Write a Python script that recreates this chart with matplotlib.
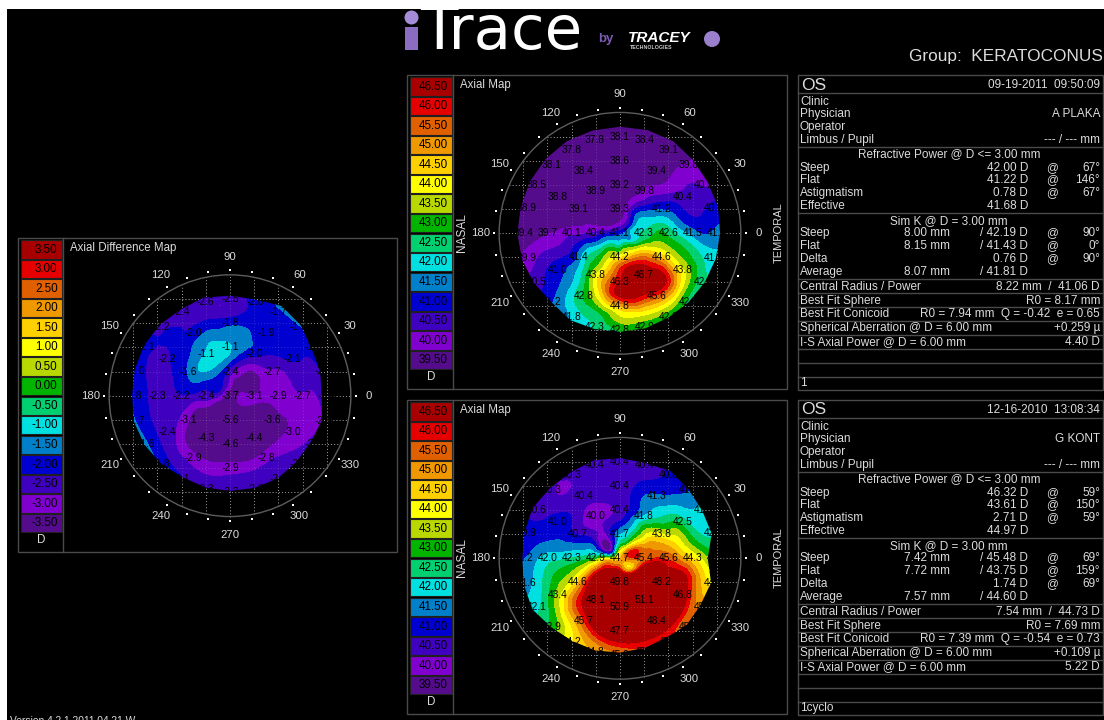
import numpy as np
import matplotlib
matplotlib.use("Agg")
import matplotlib.pyplot as plt
from matplotlib.patches import Rectangle, Circle, Polygon
from matplotlib.tri import Triangulation, UniformTriRefiner

plt.rcParams['font.family'] = ['Liberation Sans', 'DejaVu Sans']

# ---------- colour scale ----------
BAND_COLOURS = ['#540c8c', '#8000d0', '#4000c0', '#0000d0', '#0080c8', '#00e0e0', '#00d070', '#00b400',
                '#b8d800', '#ffff00', '#ffd000', '#f09800', '#e06000', '#e60000', '#a80000']
AXIAL_LEGEND = [39.5, 40.0, 40.5, 41.0, 41.5, 42.0, 42.5, 43.0, 43.5, 44.0, 44.5, 45.0, 45.5, 46.0, 46.5]
DIFF_LEGEND = [-3.5, -3.0, -2.5, -2.0, -1.5, -1.0, -0.5, 0.0, 0.5, 1.0, 1.5, 2.0, 2.5, 3.0, 3.5]

# ---------- sample rings of each map, from 0 deg counter-clockwise ----------
TOP_R0 = 41.1
TOP_R05 = [41.9, 41.3, 40.3, 39.7, 39.5, 39.8, 40.8, 41.6, 42.2, 42.3, 42.5, 41.7]
TOP_R10 = [42.3, 41.9, 40.7, 39.3, 39.1, 39.4, 40.4, 41.8, 43.4, 44.2, 44.4, 43.3]
TOP_R15 = [42.8, 41.6, 40.2, 39.2, 39.0, 39.5, 40.2, 42.0, 43.5, 45.8, 46.3, 44.3]
TOP_R20 = [42.6, 41.2, 39.8, 39.2, 38.9, 39.1, 40.1, 41.4, 43.8, 46.3, 46.7, 44.6]
TOP_R25 = [42.0, 41.2, 40.8, 40.0, 39.6, 39.1, 38.9, 38.7, 38.6, 38.7, 38.9, 39.2,
           39.9, 40.4, 41.1, 41.9, 43.3, 45.0, 46.6, 46.8, 46.7, 46.5, 44.3, 43.0]
TOP_R30 = [41.5, 40.4, 39.4, 38.6, 38.4, 38.8, 39.7, 41.0, 42.8, 44.8, 45.6, 43.8]
TOP_R35 = [41.2, 40.7, 40.4, 39.9, 39.2, 38.6, 38.3, 38.1, 38.1, 38.2, 38.6, 39.0,
           39.5, 40.2, 40.8, 41.4, 42.3, 42.6, 43.6, 43.8, 44.0, 43.7, 43.0, 42.2]
TOP_R40 = [41.4, 40.9, 40.2, 39.8, 39.1, 38.4, 38.1, 37.8, 37.8, 38.1, 38.5, 38.9,
           39.4, 39.9, 40.5, 41.2, 41.8, 42.3, 42.8, 42.9, 42.9, 42.6, 42.4, 41.9]
TOP_EDGE = [4.14, 4.2, 4.2, 4.28, 4.4, 4.42, 4.41, 4.4, 4.4, 4.35, 4.3, 4.25,
            4.25, 4.2, 4.11, 4.02, 4.14, 4.1, 4.07, 4.07, 4.02, 4.02, 4.05, 4.1]

BOT_R0 = 44.7
BOT_R05 = [45.6, 46.0, 44.0, 42.8, 40.9, 40.4, 43.7, 45.5, 46.3, 46.2, 44.6, 44.3]
BOT_R10 = [45.4, 45.0, 42.7, 41.7, 40.1, 40.4, 42.9, 46.0, 48.5, 49.8, 48.5, 47.0]
BOT_R15 = [45.8, 44.6, 42.4, 40.8, 40.2, 41.0, 42.5, 45.5, 49.0, 50.5, 50.5, 49.5]
BOT_R20 = [45.6, 43.8, 41.8, 40.4, 40.0, 40.7, 42.3, 44.6, 48.1, 50.9, 51.1, 48.2]
BOT_R25 = [45.0, 44.0, 43.2, 42.2, 41.6, 41.0, 40.4, 40.3, 40.2, 40.5, 40.9, 41.3,
           42.1, 43.0, 44.0, 45.8, 47.0, 49.0, 49.5, 50.0, 50.0, 50.0, 47.8, 46.6]
BOT_R30 = [44.3, 42.5, 41.3, 40.4, 40.4, 41.0, 42.0, 43.4, 45.7, 47.7, 48.4, 46.8]
BOT_R35 = [43.5, 42.3, 41.9, 41.4, 40.9, 40.6, 40.4, 40.4, 40.3, 40.3, 40.7, 41.0,
           41.6, 42.0, 42.6, 43.5, 44.6, 45.6, 46.2, 46.4, 46.4, 46.0, 45.4, 44.6]
BOT_R40 = [42.9, 42.2, 41.9, 41.2, 40.8, 40.4, 40.4, 40.4, 40.3, 40.3, 40.6, 40.9,
           41.2, 41.6, 42.1, 42.9, 44.2, 44.8, 45.2, 45.6, 45.8, 45.5, 45.0, 44.0]
BOT_EDGE = [3.63, 3.93, 3.93, 4.02, 4.17, 4.08, 4.15, 4.2, 4.1, 4.1, 4.17, 4.1,
            4.04, 4.12, 4.2, 4.03, 3.95, 3.95, 3.9, 3.85, 3.8, 3.9, 3.85, 3.9]

DIF_R0 = -3.7
DIF_R05 = [-3.0, -3.3, -3.4, -2.9, -2.3, -2.1, -2.5, -3.3, -3.8, -4.2, -3.7, -2.9]
DIF_R10 = [-3.1, -3.8, -3.2, -2.4, -1.7, -1.9, -2.4, -3.3, -4.6, -5.6, -5.0, -3.5]
DIF_R15 = [-2.9, -3.0, -2.7, -1.5, -1.0, -1.4, -2.3, -3.5, -4.5, -5.2, -4.9, -4.0]
DIF_R20 = [-2.9, -2.7, -2.0, -1.1, -1.1, -1.6, -2.2, -3.1, -4.3, -4.6, -4.4, -3.6]
DIF_R25 = [-2.8, -2.7, -2.5, -2.1, -1.9, -1.5, -1.4, -1.3, -1.4, -1.8, -2.0, -2.2,
           -2.3, -2.5, -2.7, -3.3, -3.7, -3.7, -3.6, -3.7, -3.6, -3.4, -3.3, -3.0]
DIF_R30 = [-2.7, -2.1, -1.9, -1.8, -2.0, -2.2, -2.3, -2.4, -2.9, -2.9, -2.8, -3.0]
DIF_R35 = [-2.7, -2.4, -2.1, -1.9, -1.8, -2.0, -2.5, -2.4, -2.2, -2.1, -2.2, -2.2,
           -2.1, -2.1, -2.1, -2.3, -2.5, -2.6, -2.5, -2.5, -2.5, -2.6, -2.8, -2.9]
DIF_R40 = [-2.4, -2.1, -1.9, -1.7, -1.7, -2.0, -2.5, -2.6, -2.4, -2.2, -2.1, -2.0,
           -1.8, -1.7, -1.6, -1.8, -2.1, -2.3, -2.3, -2.3, -2.3, -2.4, -2.5, -2.6]
DIF_R46 = [-2.3, -2.0, -1.6, -1.4, -1.4, -1.9, -2.5, -2.6, -2.4, -2.2, -2.1, -1.9,
           -1.3, -1.2, -1.2, -1.4, -2.0, -2.2, -2.2, -2.2, -2.2, -2.3, -2.4, -2.5]
DIF_EDGE = [3.8, 3.86, 3.9, 4.13, 4.28, 4.12, 4.14, 4.2, 4.11, 4.13, 4.12, 4.09,
            4.05, 4.12, 4.08, 4.0, 3.9, 3.93, 3.94, 3.95, 3.95, 3.88, 3.85, 3.94]

# ---------- info tables ----------
TOP_INFO = dict(date='09-19-2011  09:50:09', doctor='A PLAKA',
                steep=('42.00 D', '67°'), flat=('41.22 D', '146°'), astig=('0.78 D', '67°'), eff='41.68 D',
                ksteep=('8.00 mm', '/ 42.19 D', '90°'), kflat=('8.15 mm', '/ 41.43 D', '0°'),
                kdelta=('0.76 D', '90°'), kavg=('8.07 mm', '/ 41.81 D'),
                central='8.22 mm  /  41.06 D', bfs='R0 = 8.17 mm', bfc='R0 = 7.94 mm  Q = -0.42  e = 0.65',
                sph='+0.259 µ', isa='4.40 D', note='1')
BOT_INFO = dict(date='12-16-2010  13:08:34', doctor='G KONT',
                steep=('46.32 D', '59°'), flat=('43.61 D', '150°'), astig=('2.71 D', '59°'), eff='44.97 D',
                ksteep=('7.42 mm', '/ 45.48 D', '69°'), kflat=('7.72 mm', '/ 43.75 D', '159°'),
                kdelta=('1.74 D', '69°'), kavg=('7.57 mm', '/ 44.60 D'),
                central='7.54 mm  /  44.73 D', bfs='R0 = 7.69 mm', bfc='R0 = 7.39 mm  Q = -0.54  e = 0.73',
                sph='+0.109 µ', isa='5.22 D', note='1cyclo')

W, H = 1104, 720
UNIT = 24.17          # pixels per map unit
HALF = 6.4            # half-width of a map axes, map units
TXT = '#dcdcdc'
FRAME = '#4a4a4a'

fig = plt.figure(figsize=(W / 100, H / 100), dpi=100, facecolor='white')
over = fig.add_axes([0, 0, 1, 1], zorder=10)
over.set_xlim(0, W)
over.set_ylim(H, 0)
over.axis('off')
over.patch.set_alpha(0)
under = fig.add_axes([0, 0, 1, 1], zorder=0)
under.set_xlim(0, W)
under.set_ylim(H, 0)
under.axis('off')
under.add_patch(Rectangle((7, 9), W - 7, H - 9, fc='black', ec='none'))


def polar(r, deg):
    a = np.deg2rad(deg)
    return r * np.cos(a), r * np.sin(a)


def draw_map(cx, cy, rings, centre, edge, levels, label_spec):
    px = 2 * HALF * UNIT
    ax = fig.add_axes([(cx - px / 2) / W, 1 - (cy + px / 2) / H, px / W, px / H], zorder=5)
    ax.set_xlim(-HALF, HALF)
    ax.set_ylim(-HALF, HALF)
    ax.axis('off')
    ax.patch.set_alpha(0)
    xs, ys, zs = [0.0], [0.0], [centre]
    for r, vals in rings:
        deg = np.arange(len(vals)) * 360 / len(vals)
        x, y = polar(r, deg)
        xs += list(x)
        ys += list(y)
        zs += list(vals)
    tri = Triangulation(xs, ys)
    fine_tri, fine_z = UniformTriRefiner(tri).refine_field(np.array(zs), subdiv=3)
    cs = ax.tricontourf(fine_tri, fine_z, levels=levels, colors=BAND_COLOURS, antialiased=False, zorder=1)
    ex, ey = polar(np.array(edge), np.arange(len(edge)) * 360 / len(edge))
    cs.set_clip_path(Polygon(np.column_stack([ex, ey]), closed=True, transform=ax.transData))
    # grid, ring, ticks
    ring = Circle((0, 0), 5, fc='none', ec='#5c5c5c', lw=1.0, zorder=3)
    ax.add_patch(ring)
    for k in range(-4, 5):
        half = np.sqrt(25 - k * k)
        for seg in ([k, k], [-half, half]), ([-half, half], [k, k]):
            ax.plot(*seg, color='#8a8a8a', lw=0.7, linestyle=(0, (1, 2.2)), zorder=0.5)
            ax.plot(*seg, color='#ffffff', alpha=0.18, lw=0.7, linestyle=(0, (1, 2.2)), zorder=2)
    tx, ty = polar(5.2, np.arange(0, 360, 10))
    ax.scatter(tx, ty, s=3.0, marker='s', c='white', linewidths=0, zorder=3)
    for d in range(0, 360, 30):
        lx, ly = polar(5.75, d)
        ax.text(lx, ly, str(d), color=TXT, fontsize=8.2, ha='center', va='center', zorder=4)
    # sampled values, black: they vanish off the map on the black ground
    ax.text(0, 0, f'{centre:.1f}', color='black', fontsize=7.4, ha='center', va='center', zorder=4)
    for r, vals, step in label_spec:
        for i in range(0, len(vals), step):
            d = i * 360 / len(vals)
            lx, ly = polar(r, d)
            ax.text(lx, ly, f'{vals[i]:.1f}', color='black', fontsize=7.4, ha='center', va='center', zorder=4)
    return ax


def rings_of(r05, r10, r15, r20, r25, r30, r35, r40, r46):
    return [(0.5, r05), (1.0, r10), (1.5, r15), (2.0, r20), (2.5, r25), (3.0, r30), (3.5, r35), (4.0, r40), (4.6, r46)]


AX_LEVELS = [-100] + [v - 0.25 for v in AXIAL_LEGEND[1:]] + [100]
DF_LEVELS = [-100] + [v - 0.15 for v in DIFF_LEGEND[1:]] + [100]

draw_map(620, 233.3, rings_of(TOP_R05, TOP_R10, TOP_R15, TOP_R20, TOP_R25, TOP_R30, TOP_R35, TOP_R40, TOP_R40),
         TOP_R0, TOP_EDGE, AX_LEVELS, [(1, TOP_R10, 3), (2, TOP_R20, 1), (3, TOP_R30, 1), (4, TOP_R40, 1)])
draw_map(620, 558.3, rings_of(BOT_R05, BOT_R10, BOT_R15, BOT_R20, BOT_R25, BOT_R30, BOT_R35, BOT_R40, BOT_R40),
         BOT_R0, BOT_EDGE, AX_LEVELS, [(1, BOT_R10, 3), (2, BOT_R20, 1), (3, BOT_R30, 1), (4, BOT_R40, 1)])
draw_map(230, 395.7, rings_of(DIF_R05, DIF_R10, DIF_R15, DIF_R20, DIF_R25, DIF_R30, DIF_R35, DIF_R40, DIF_R46),
         DIF_R0, DIF_EDGE, DF_LEVELS, [(1, DIF_R10, 3), (2, DIF_R20, 1), (3, DIF_R30, 1), (4, DIF_R40, 1)])


def panel(x0, y0, x1, y1, sep, legend, title, side_labels, cy):
    over.add_patch(Rectangle((x0, y0), x1 - x0, y1 - y0, fc='none', ec=FRAME, lw=1))
    over.plot([sep, sep], [y0, y1], color=FRAME, lw=1)
    for i, (val, col) in enumerate(zip(legend[::-1], BAND_COLOURS[::-1])):
        top = y0 + 2.3 + i * 19.53
        over.add_patch(Rectangle((x0 + 2.5, top), sep - x0 - 3.5, 18.4, fc=col, ec='#202020', lw=0.8))
        over.text(sep - 5, top + 9.4, f'{val:.2f}', color='black', fontsize=8.4, ha='right', va='center')
    over.text((x0 + sep) / 2 + 1, y1 - 12, 'D', color=TXT, fontsize=8.4, ha='center', va='center')
    over.text(sep + 7, y0 + 10, title, color=TXT, fontsize=8.3, ha='left', va='center')
    if side_labels:
        over.text(462, cy, 'NASAL', color=TXT, fontsize=8.6, rotation=90, ha='center', va='center')
        over.text(779, cy, 'TEMPORAL', color=TXT, fontsize=8, rotation=90, ha='center', va='center')


panel(407, 75, 787, 389, 452.5, AXIAL_LEGEND, 'Axial Map', True, 233)
panel(407, 400, 787, 714, 452.5, AXIAL_LEGEND, 'Axial Map', True, 558)
panel(18, 238, 397, 552, 62.5, DIFF_LEGEND, 'Axial Difference Map', False, 396)


def table(info, dy):
    F = 8.5
    LX, RX, ATX = 800, 1100, 1052
    VX, MMX = 1028, 950
    over.add_patch(Rectangle((798, 75 + dy), 305, 315, fc='none', ec=FRAME, lw=1))
    for y in (93.3, 147.3, 213.3, 279.3, 293.3, 307.3, 320.7, 334.7, 348.7, 362.7, 376.7):
        over.plot([798, 1103], [y + dy, y + dy], color=FRAME, lw=1)

    def t(x, y, s, ha='left', size=F):
        over.text(x, y + dy, s, color=TXT, fontsize=size, ha=ha, va='center')

    t(LX + 1, 85, 'OS', size=12.5)
    t(RX, 85, info['date'], 'right')
    for y, s in ((101.7, 'Clinic'), (114.3, 'Physician'), (127.3, 'Operator'), (140, 'Limbus / Pupil')):
        t(LX, y, s)
    t(RX, 114.3, info['doctor'], 'right')
    t(RX, 140, '--- / --- mm', 'right')
    t(949, 154.3, 'Refractive Power @ D <= 3.00 mm', 'center')
    for y, s, key in ((167.7, 'Steep', 'steep'), (180, 'Flat', 'flat'), (193.3, 'Astigmatism', 'astig')):
        t(LX, y, s)
        t(VX, y, info[key][0], 'right')
        t(ATX, y, '@', 'center')
        t(RX, y, info[key][1], 'right')
    t(LX, 206.3, 'Effective')
    t(VX, 206.3, info['eff'], 'right')
    t(949, 220.7, 'Sim K @ D = 3.00 mm', 'center')
    for y, s, key in ((233.3, 'Steep', 'ksteep'), (246, 'Flat', 'kflat')):
        t(LX, y, s)
        t(MMX, y, info[key][0], 'right')
        t(VX, y, info[key][1], 'right')
        t(ATX, y, '@', 'center')
        t(RX, y, info[key][2], 'right')
    t(LX, 259.3, 'Delta')
    t(VX, 259.3, info['kdelta'][0], 'right')
    t(ATX, 259.3, '@', 'center')
    t(RX, 259.3, info['kdelta'][1], 'right')
    t(LX, 272.3, 'Average')
    t(MMX, 272.3, info['kavg'][0], 'right')
    t(VX, 272.3, info['kavg'][1], 'right')
    for y, s, key in ((286.7, 'Central Radius / Power', 'central'), (300.7, 'Best Fit Sphere', 'bfs'),
                      (314, 'Best Fit Conicoid', 'bfc'), (327.7, 'Spherical Aberration @ D = 6.00 mm', 'sph'),
                      (341.7, 'I-S Axial Power @ D = 6.00 mm', 'isa')):
        t(LX, y, s)
        t(RX, y, info[key], 'right')
    t(LX, 383.5, info['note'])


table(TOP_INFO, 0)
table(BOT_INFO, 325)

# ---------- header ----------
under.text(420, 49, 'Trace', color='white', fontsize=44, family='DejaVu Sans', ha='left', va='baseline')
under.add_patch(Rectangle((405, 27), 13, 23, fc='#8a6cc0', ec='none'))
under.add_patch(Circle((411.5, 17.5), 7, fc='#a48cd8', ec='none'))
under.text(606, 39, 'by', color='#7a5cb0', fontsize=9.5, ha='center', va='center', fontweight='bold')
under.text(628, 38, 'TRACEY', color='white', fontsize=11, fontstyle='italic', fontweight='bold', ha='left', va='center')
under.text(630, 47.5, 'TECHNOLOGIES', color='#cccccc', fontsize=3.8, fontweight='bold', ha='left', va='center')
under.add_patch(Circle((712, 39), 8, fc='#9a80cc', ec='none'))
under.text(1103, 56, 'Group:  KERATOCONUS', color=TXT, fontsize=12.4, ha='right', va='center')
under.text(10, 716, 'Version 4.2.1 2011.04.21 W', color=TXT, fontsize=7.4, ha='left', va='top', clip_on=False)
under.add_patch(Rectangle((0, 0), W, 9, fc='white', ec='none', zorder=6))

fig.savefig('out.png', dpi=100, facecolor='white')
